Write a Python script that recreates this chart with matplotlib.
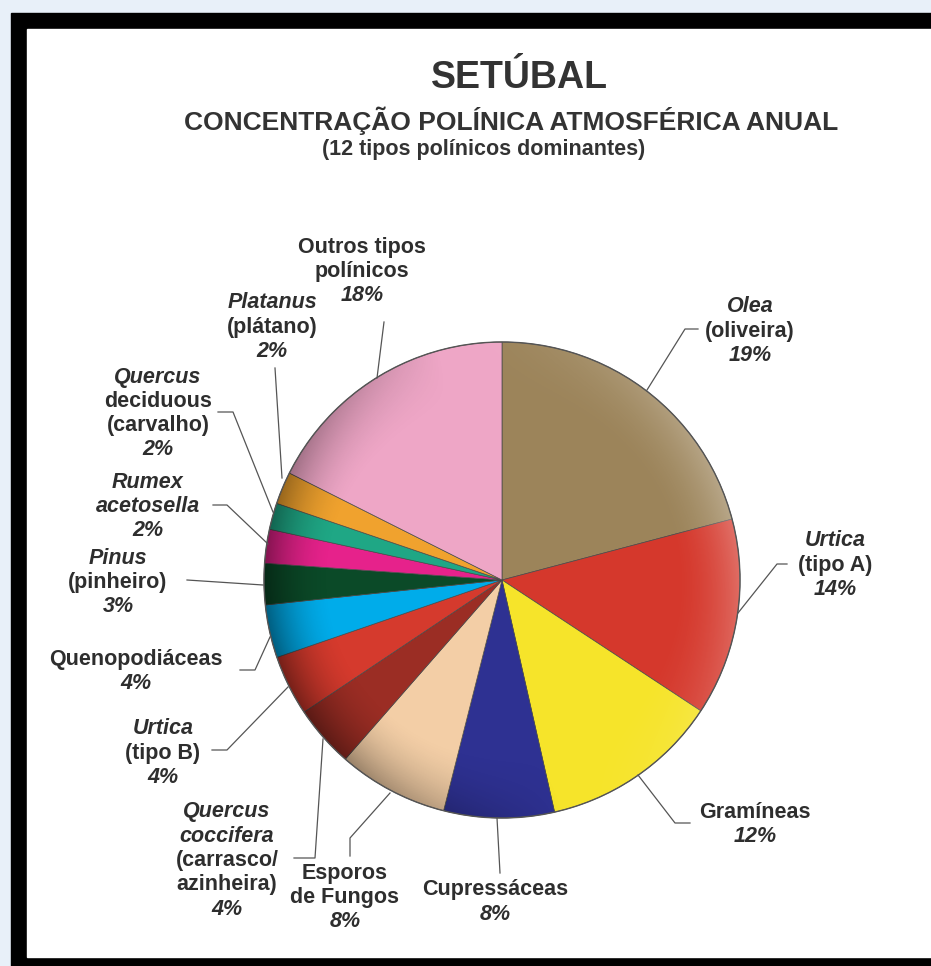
import numpy as np
import matplotlib
matplotlib.use("Agg")
import matplotlib.pyplot as plt
from matplotlib.patches import Rectangle, Circle

W, H = 931, 966

# slice sizes as drawn (clockwise from 12 o'clock) and the printed percentages
names = ["Olea", "Urtica A", "Gramíneas", "Cupressáceas", "Esporos de Fungos",
         "Quercus coccifera", "Urtica B", "Quenopodiáceas", "Pinus",
         "Rumex acetosella", "Quercus deciduous", "Platanus", "Outros"]
values = [20.9, 13.4, 12.2, 7.5, 7.5, 4.2, 4.1, 3.6, 2.8, 2.3, 1.8, 2.2, 17.6]
pct_labels = ["19%", "14%", "12%", "8%", "8%", "4%", "4%", "4%", "3%",
              "2%", "2%", "2%", "18%"]
colors = ["#9c845a", "#d5382c", "#f6e42a", "#2e3192", "#f3cea6", "#9b2d24",
          "#d53a2d", "#00acea", "#0b4a28", "#e6228b", "#1fa785", "#f0a22e",
          "#eea6c6"]

# label text lines: (text, italic)
label_lines = [
    [("Olea", True), ("(oliveira)", False)],
    [("Urtica", True), ("(tipo A)", False)],
    [("Gramíneas", False)],
    [("Cupressáceas", False)],
    [("Esporos", False), ("de Fungos", False)],
    [("Quercus", True), ("coccifera", True), ("(carrasco/", False), ("azinheira)", False)],
    [("Urtica", True), ("(tipo B)", False)],
    [("Quenopodiáceas", False)],
    [("Pinus", True), ("(pinheiro)", False)],
    [("Rumex", True), ("acetosella", True)],
    [("Quercus", True), ("deciduous", False), ("(carvalho)", False)],
    [("Platanus", True), ("(plátano)", False)],
    [("Outros tipos", False), ("polínicos", False)],
]

# label block anchors (centre x, first line y) in image pixels
label_pos = [(750, 307), (835, 541), (755, 812), (495, 890), (345, 873),
             (227, 812), (163, 729), (136, 659), (118, 558), (148, 482),
             (158, 377), (272, 303), (362, 247)]

# leader lines in image pixels
leaders = [
    [(647, 390), (685, 329), (698, 329)],
    [(738, 613), (777, 564), (787, 564)],
    [(638, 775), (675, 823), (690, 823)],
    [(497, 818), (500, 873)],
    [(390, 793), (350, 838), (350, 856)],
    [(323, 739), (315, 858), (294, 858)],
    [(288, 687), (227, 750), (212, 750)],
    [(270, 637), (255, 670), (240, 670)],
    [(263, 585), (187, 580)],
    [(268, 544), (227, 505), (213, 505)],
    [(273, 512), (233, 412), (218, 412)],
    [(282, 478), (275, 368)],
    [(377, 378), (384, 322)],
]

cx, cy, R = 502, 580, 238
txt_col = "#2e2e2e"
plt.rcParams['font.family'] = ['Liberation Sans', 'DejaVu Sans']

fig = plt.figure(figsize=(W / 100, H / 100), dpi=100)
ax = fig.add_axes([0, 0, 1, 1])

# background and frame
ax.add_patch(Rectangle((0, 0), W, H, color="#e8f0f9", zorder=0))
ax.add_patch(Rectangle((11, 0), W - 11, H - 13, color="black", zorder=0.1))
ax.add_patch(Rectangle((27, 9), W - 27, H - 29 - 9, color="white", zorder=0.2))

wedges, _ = ax.pie(values, colors=colors, startangle=90, counterclock=False,
                   center=(cx, H - cy), radius=R,
                   wedgeprops=dict(edgecolor="#4a4a4a", linewidth=0.5))

# soft shading towards the rim
yy, xx = np.mgrid[-R:R:400j, -R:R:400j]
rr = np.sqrt(xx ** 2 + yy ** 2) / R
th = np.arctan2(yy, xx)
edge = np.clip((rr - 0.72) / 0.28, 0, 1) ** 1.8
light = np.cos(th - np.radians(15))
shade = np.zeros((400, 400, 4))
shade[..., :3] = np.where(light[..., None] > 0, 1.0, 0.0)
shade[..., 3] = np.where(light > 0, 0.28 * light ** 2, 0.45 * -light) * edge
im = ax.imshow(shade, extent=(cx - R, cx + R, H - cy - R, H - cy + R),
               origin="lower", zorder=2, interpolation="bilinear")
rim = Circle((cx, H - cy), R, facecolor="none", edgecolor="#555555",
             linewidth=1.0, zorder=3)
ax.add_patch(rim)
im.set_clip_path(Circle((cx, H - cy), R, transform=ax.transData))

# titles
ax.text(519, H - 78, "SETÚBAL", ha="center", va="center", fontsize=27,
        fontweight="bold", color="#333333")
ax.text(511, H - 121, "CONCENTRAÇÃO POLÍNICA ATMOSFÉRICA ANUAL", ha="center",
        va="center", fontsize=19, fontweight="bold", color="#333333")
ax.text(484, H - 150, "(12 tipos polínicos dominantes)", ha="center",
        va="center", fontsize=15.5, fontweight="bold", color="#333333")

# labels
step = 24.3
for lines, pct, (lx, ly) in zip(label_lines, pct_labels, label_pos):
    for i, (t, it) in enumerate(lines):
        ax.text(lx, H - (ly + i * step), t, ha="center", va="center",
                fontsize=15.5, fontweight="bold", color=txt_col,
                style="italic" if it else "normal")
    ax.text(lx, H - (ly + len(lines) * step), pct, ha="center", va="center",
            fontsize=15.5, fontweight="bold", style="italic", color=txt_col)

for pts in leaders:
    xs = [p[0] for p in pts]
    ys = [H - p[1] for p in pts]
    ax.plot(xs, ys, color="#555555", linewidth=0.9, zorder=4)

ax.set_xlim(0, W)
ax.set_ylim(0, H)
ax.set_aspect("auto")
ax.axis("off")

plt.savefig("out.png", dpi=100)
